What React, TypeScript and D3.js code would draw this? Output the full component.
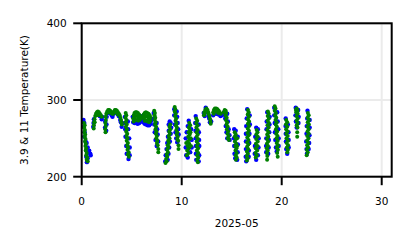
import React from "react";
import * as d3 from "d3";

// ---- chart content ----
const xTicks = [0, 10, 20, 30];
const yTicks = [200, 300, 400];
const xDomain: [number, number] = [0, 31];
const yDomain: [number, number] = [200, 400];
const xLabel = "2025-05";
const yLabel = "3.9 & 11 Temperature(K)";

// 11 µm brightness temperature (green) — [day of month, K]
const bt11: [number, number][] = [
  [0.22,270],[0.3,267],[0.24,264],[0.32,261],[0.27,258],[0.35,255],[0.3,252],[0.38,249],[0.33,246],[0.41,243],[0.37,240],[0.45,237],[0.4,234],[0.5,231],[0.45,228],[0.55,225],[0.5,222],[0.6,220],
  [1.2,263],[1.22,267],[1.24,271],[1.28,275],[1.35,279],[1.43,282],[1.52,284],[1.62,285],[1.72,284],[1.82,282],[1.92,280],[2.0,278],[1.3,271],[1.5,280],[1.7,280],
  [2.38,258],[2.36,262],[2.4,266],[2.37,270],[2.42,274],[2.4,278],[2.46,282],[2.55,285],[2.65,287],[2.75,287],[2.85,286],[2.95,284],[3.05,282],[2.7,284],[2.9,283],
  [3.15,282],[3.22,285],[3.32,287],[3.42,287],[3.52,286],[3.62,284],[3.72,282],[3.8,280],[3.87,277],[3.93,274],[3.98,271],[4.02,268],[3.4,284],[3.6,281],
  [4.4,283],[4.46,280],[4.38,277],[4.48,274],[4.4,271],[4.5,268],[4.42,265],[4.52,262],[4.45,259],[4.55,256],[4.48,253],[4.58,250],[4.5,247],[4.62,244],[4.55,241],[4.65,238],[4.58,235],[4.7,232],[4.62,229],[4.72,226],
  [5.15,276],[5.2,280],[5.28,283],[5.38,284],[5.5,284],[5.62,283],[5.74,281],[5.85,279],[5.92,276],[5.25,276],[5.4,279],[5.55,279],[5.7,277],[5.35,274],[5.5,274],[5.65,273],[5.8,274],[5.2,272],
  [6.15,277],[6.2,281],[6.3,283],[6.42,284],[6.55,283],[6.68,282],[6.8,280],[6.9,277],[6.25,277],[6.4,279],[6.55,278],[6.7,276],[6.85,273],[6.3,273],[6.45,273],[6.6,272],[6.75,271],
  [7.25,286],[7.32,283],[7.28,280],[7.36,277],[7.3,274],[7.4,271],[7.34,268],[7.44,265],[7.38,262],[7.48,259],[7.42,256],[7.52,253],[7.46,250],[7.56,247],[7.52,244],[7.6,241],[7.66,236],[7.66,232],
  [8.85,268],[8.78,265],[8.86,262],[8.75,259],[8.82,256],[8.7,253],[8.78,250],[8.65,247],[8.72,244],[8.6,241],[8.67,238],[8.55,235],[8.62,232],[8.5,229],[8.56,226],[8.44,223],[8.5,220],[8.38,218],
  [9.3,291],[9.36,288],[9.3,285],[9.4,282],[9.34,279],[9.44,276],[9.38,273],[9.48,270],[9.42,267],[9.52,264],[9.46,261],[9.56,258],[9.5,255],[9.6,252],[9.55,249],[9.65,247],[9.68,241],[9.68,236],
  [10.75,270],[10.85,267],[10.72,264],[10.82,261],[10.68,258],[10.8,255],[10.65,252],[10.78,249],[10.62,246],[10.75,243],[10.58,240],[10.72,237],[10.55,234],[10.68,231],[10.52,228],[10.45,244],[10.9,250],[10.92,240],[10.88,258],
  [11.45,276],[11.55,273],[11.45,270],[11.58,267],[11.47,264],[11.6,261],[11.48,258],[11.6,255],[11.5,252],[11.62,249],[11.5,246],[11.62,243],[11.52,240],[11.64,237],[11.52,234],[11.65,231],[11.55,228],[11.66,225],[11.56,222],[11.62,219],
  [12.22,280],[12.26,284],[12.35,287],[12.47,289],[12.58,287],[12.65,284],[12.72,281],[12.78,278],[12.84,275],[12.88,272],[12.9,269],[12.3,282],
  [13.15,284],[13.22,287],[13.32,289],[13.45,289],[13.58,288],[13.7,286],[13.8,284],[13.9,282],[13.3,285],[13.5,285],[13.65,283],[13.2,282],
  [14.2,284],[14.3,287],[14.4,286],[14.45,283],[14.38,280],[14.5,277],[14.42,274],[14.55,271],[14.48,268],[14.6,265],[14.52,262],[14.65,259],[14.58,256],[14.7,253],[14.62,250],[14.72,248],
  [15.3,258],[15.4,255],[15.3,252],[15.42,249],[15.32,246],[15.45,243],[15.35,240],[15.48,237],[15.38,234],[15.5,231],[15.4,228],[15.5,225],[15.42,222],[15.55,240],[15.55,250],
  [16.62,287],[16.7,284],[16.6,281],[16.72,278],[16.62,275],[16.74,272],[16.62,269],[16.74,266],[16.6,263],[16.72,260],[16.58,257],[16.7,254],[16.56,251],[16.68,248],[16.55,245],[16.66,242],[16.54,239],[16.64,236],[16.52,233],[16.62,230],[16.5,227],[16.6,224],[16.52,221],
  [17.5,261],[17.58,258],[17.46,255],[17.6,252],[17.45,249],[17.6,246],[17.42,243],[17.58,240],[17.4,237],[17.55,234],[17.38,231],[17.52,228],[17.4,225],
  [18.62,285],[18.7,282],[18.6,279],[18.72,276],[18.6,273],[18.72,270],[18.58,267],[18.7,264],[18.56,261],[18.68,258],[18.55,255],[18.66,252],[18.54,249],[18.64,246],[18.52,243],[18.62,240],[18.5,237],[18.6,234],[18.52,231],[18.56,227],[18.54,222],
  [19.3,292],[19.38,289],[19.3,286],[19.42,283],[19.34,280],[19.46,277],[19.38,274],[19.5,271],[19.4,268],[19.52,265],[19.42,262],[19.55,259],[19.45,256],[19.58,253],[19.48,250],[19.6,247],[19.5,244],[19.62,241],[19.52,238],[19.62,235],[19.55,231],[19.6,226],
  [20.45,274],[20.55,271],[20.42,268],[20.56,265],[20.44,262],[20.58,259],[20.46,256],[20.6,253],[20.48,250],[20.62,247],[20.5,244],[20.64,241],[20.52,238],[20.62,235],[20.56,232],
  [21.42,287],[21.5,289],[21.58,286],[21.45,284],[21.6,282],[21.48,279],[21.6,276],[21.5,273],[21.6,270],[21.5,267],[21.58,264],[21.55,258],[21.55,252],
  [22.62,283],[22.7,280],[22.6,277],[22.72,274],[22.6,271],[22.72,268],[22.58,265],[22.7,262],[22.58,259],[22.7,256],[22.56,253],[22.68,250],[22.55,247],[22.66,244],[22.54,241],[22.64,238],[22.52,235],[22.6,232],[22.5,228],
];

// 3.9 µm brightness temperature (blue) — [day of month, K]
const bt39: [number, number][] = [
  [0.18,274],[0.26,270],[0.2,265],[0.3,258],[0.26,252],[0.4,246],[0.5,244],[0.6,238],[0.75,234],[0.85,230],[0.9,228],[0.55,231],[0.45,226],[0.6,224],[0.52,219],
  [1.15,265],[1.18,270],[1.22,275],[1.6,281],[1.8,279],[2.0,275],[2.05,278],
  [2.33,264],[2.35,272],[2.45,260],[2.48,268],[2.5,278],[2.6,283],[2.8,283],[3.0,280],[3.08,278],
  [3.2,282],[3.5,283],[3.7,279],[3.85,274],[3.92,271],[4.05,270],[4.0,265],
  [4.32,278],[4.35,270],[4.35,262],[4.62,272],[4.65,262],[4.38,252],[4.75,250],[4.45,240],[4.8,238],[4.5,230],[4.8,228],[4.68,223],
  [5.15,271],[5.3,270],[5.45,270],[5.6,269],[5.75,270],[5.9,272],[5.1,278],[5.95,279],
  [6.15,271],[6.3,269],[6.45,268],[6.6,267],[6.75,267],[6.88,269],[6.95,273],[6.1,275],
  [7.2,283],[7.22,276],[7.25,268],[7.5,270],[7.55,262],[7.3,258],[7.6,255],[7.38,248],[7.65,246],[7.5,240],
  [8.8,272],[8.9,270],[8.7,268],[8.95,264],[8.7,260],[8.9,256],[8.62,252],[8.82,246],[8.55,244],[8.75,238],[8.48,236],[8.68,230],[8.4,228],[8.6,222],[8.35,220],
  [9.25,288],[9.25,280],[9.5,285],[9.55,278],[9.32,268],[9.6,270],[9.38,258],[9.65,262],[9.45,250],[9.7,255],[9.55,245],
  [10.7,273],[10.95,262],[10.5,258],[11.0,248],[10.4,250],[11.0,238],[10.4,238],[10.85,232],[10.45,228],[10.6,225],[10.6,266],
  [11.4,279],[11.35,270],[11.7,268],[11.38,260],[11.72,258],[11.4,250],[11.74,248],[11.42,240],[11.76,240],[11.42,230],[11.75,228],[11.45,222],[11.7,220],
  [12.2,283],[12.3,279],[12.55,284],[12.68,279],[12.75,276],[12.82,271],[12.95,272],[12.4,290],
  [13.15,280],[13.3,282],[13.5,282],[13.7,281],[13.88,279],[14.0,280],
  [14.15,281],[14.25,284],[14.55,282],[14.35,276],[14.62,272],[14.4,266],[14.7,262],[14.48,258],[14.78,254],[14.55,250],[14.8,248],
  [15.25,262],[15.4,260],[15.22,250],[15.6,252],[15.25,240],[15.62,242],[15.28,230],[15.6,232],[15.35,224],[15.55,222],
  [16.55,288],[16.5,276],[16.8,280],[16.45,266],[16.82,268],[16.42,256],[16.78,256],[16.42,246],[16.76,244],[16.42,236],[16.72,234],[16.4,226],[16.7,226],[16.45,220],
  [17.45,264],[17.62,262],[17.35,252],[17.7,250],[17.32,240],[17.68,238],[17.3,230],[17.62,228],[17.45,222],
  [18.55,284],[18.8,278],[18.5,272],[18.78,268],[18.48,262],[18.76,258],[18.46,250],[18.72,248],[18.44,240],[18.7,238],[18.45,232],[18.65,230],
  [19.25,290],[19.25,280],[19.55,284],[19.3,270],[19.6,272],[19.32,258],[19.66,262],[19.36,248],[19.7,250],[19.42,238],[19.7,240],[19.5,233],
  [20.4,276],[20.38,266],[20.62,268],[20.4,256],[20.68,258],[20.42,246],[20.7,248],[20.45,236],[20.7,238],[20.55,230],
  [21.4,290],[21.65,287],[21.38,280],[21.7,278],[21.42,272],[21.68,270],[21.5,264],
  [22.58,286],[22.55,276],[22.8,274],[22.5,266],[22.8,264],[22.48,256],[22.78,254],[22.45,246],[22.75,244],[22.48,236],[22.7,236],[22.52,230],
];

export default function App() {
  const W = 411;
  const H = 248;
  const left = 81.7, right = 391.7, top = 23.3, bottom = 176.7;
  const x = d3.scaleLinear().domain(xDomain).range([left, right]);
  const y = d3.scaleLinear().domain(yDomain).range([bottom, top]);
  const font = "'DejaVu Sans', sans-serif";
  const fs = 10.5;
  const tickLen = 8.5;
  const rBlue = 2.2;
  const rGreen = 2.0;

  return (
    <svg
      width={W}
      height={H}
      style={{ position: "absolute", left: 0, top: 0, background: "#fff" }}
      fontFamily={font}
    >
      <rect x={0} y={0} width={W} height={H} fill="#fff" />
      {/* grid */}
      {xTicks.map((t) => (
        <line key={"gx" + t} x1={x(t)} x2={x(t)} y1={top} y2={bottom} stroke="#ebebeb" strokeWidth={2} />
      ))}
      {yTicks.map((t) => (
        <line key={"gy" + t} x1={left} x2={right} y1={y(t)} y2={y(t)} stroke="#ebebeb" strokeWidth={2} />
      ))}
      {/* points */}
      <g fill="#0000ff">
        {bt39.map(([d, v], i) => (
          <circle key={"b" + i} cx={x(d)} cy={y(v)} r={rBlue} />
        ))}
      </g>
      <g fill="#008000">
        {bt11.map(([d, v], i) => (
          <circle key={"g" + i} cx={x(d)} cy={y(v)} r={rGreen} />
        ))}
      </g>
      {/* frame */}
      <rect x={left} y={top} width={right - left} height={bottom - top} fill="none" stroke="#000" strokeWidth={2} />
      {/* x ticks */}
      {xTicks.map((t) => (
        <g key={"xt" + t}>
          <line x1={x(t)} x2={x(t)} y1={bottom} y2={bottom + tickLen} stroke="#000" strokeWidth={2} />
          <text x={x(t)} y={bottom + 28.3} fontSize={fs} textAnchor="middle" fill="#000">
            {t}
          </text>
        </g>
      ))}
      {/* y ticks */}
      {yTicks.map((t) => (
        <g key={"yt" + t}>
          <line x1={left - tickLen} x2={left} y1={y(t)} y2={y(t)} stroke="#000" strokeWidth={2} />
          <text x={left - 15} y={y(t) + 3.8} fontSize={fs} textAnchor="end" fill="#000">
            {t}
          </text>
        </g>
      ))}
      <text x={(left + right) / 2} y={226.5} fontSize={fs} textAnchor="middle" fill="#000">
        {xLabel}
      </text>
      <text
        transform={`translate(27.5, ${(top + bottom) / 2}) rotate(-90)`}
        fontSize={fs}
        textAnchor="middle"
        fill="#000"
      >
        {yLabel}
      </text>
    </svg>
  );
}
